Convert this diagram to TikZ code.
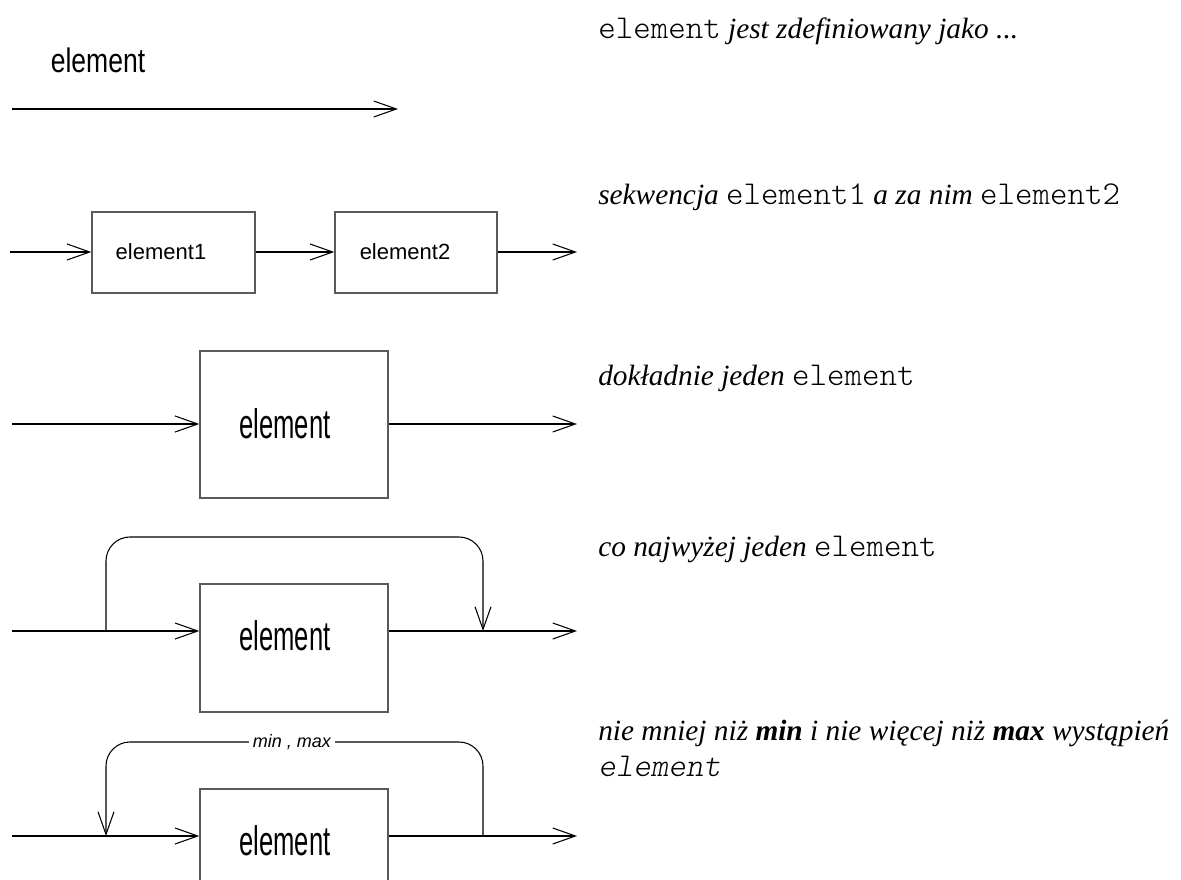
\documentclass[tikz,border=0pt]{standalone}
\usepackage{fontspec}
\setmainfont{Liberation Serif}
\newfontfamily\monof{lmmonolt10-regular}[Extension=.otf, ItalicFont=lmmonolt10-oblique]
\newfontfamily\sansf{Liberation Sans}
\newfontfamily\sanstop[FakeStretch=0.78]{Liberation Sans}
\newfontfamily\sansbox[FakeStretch=0.62]{Liberation Sans}
\usetikzlibrary{arrows.meta}
\tikzset{
  conn/.style={line width=0.8pt, draw=black},
  arr/.style={conn, -{Straight Barb[length=17pt,width=12pt,line width=0.8pt]}},
  boxnode/.style={draw={rgb,255:red,90;green,90;blue,90}, line width=1pt, fill=white, inner sep=0pt},
  bigtxt/.style={font=\sansbox\fontsize{31pt}{33pt}\selectfont, inner sep=0pt},
  smalltxt/.style={font=\sansf\fontsize{16.5pt}{18pt}\selectfont, inner sep=0pt},
  desc/.style={anchor=base west, inner sep=0pt, font=\fontsize{22pt}{28pt}\selectfont},
}
% monospaced words inside the descriptions
\newcommand{\tm}[1]{{\monof\fontsize{25pt}{28pt}\selectfont #1}}
\begin{document}
\begin{tikzpicture}[x=0.75pt,y=-0.75pt]
\useasboundingbox (0,0) rectangle (1181,880);

% --- row 1: a plain element ---
\node[font=\sanstop\fontsize{25.5pt}{27pt}\selectfont, inner sep=0pt] (t1) at (98,60) {element};
\coordinate (a1) at (12,109);
\coordinate (b1) at (398,109);
\draw[arr] (a1) -- (b1);
\node[desc] (d1) at (598,39) {\tm{element} \textit{jest zdefiniowany jako ...}};

% --- row 2: sequence ---
\node[boxnode, minimum width=122.25pt, minimum height=60.75pt] (e1) at (173.5,252.5) {};
\node[boxnode, minimum width=121.5pt, minimum height=60.75pt] (e2) at (416,252.5) {};
\node[smalltxt] (l1) at (161,252) {element1};
\node[smalltxt] (l2) at (405,252) {element2};
\coordinate (a2) at (10,252);
\coordinate (b2) at (577,252);
\draw[arr] (a2) -- (a2 -| e1.west);
\draw[arr] (e1.east |- a2) -- (a2 -| e2.west);
\draw[arr] (e2.east |- a2) -- (b2);
\node[desc] (d2) at (598,205) {\textit{sekwencja} \tm{element1} \textit{a za nim} \tm{element2}};

% --- row 3: exactly one ---
\node[boxnode, minimum width=141pt, minimum height=110.25pt] (e3) at (294,424.5) {};
\node[bigtxt] (l3) at (285,424) {element};
\coordinate (a3) at (12,424);
\coordinate (b3) at (577,424);
\draw[arr] (a3) -- (a3 -| e3.west);
\draw[arr] (e3.east |- a3) -- (b3);
\node[desc] (d3) at (598,386) {\textit{dokładnie jeden} \tm{element}};

% --- row 4: optional ---
\node[boxnode, minimum width=141pt, minimum height=96pt] (e4) at (294,648) {};
\node[bigtxt] (l4) at (285,636) {element};
\coordinate (a4) at (12,631);
\coordinate (b4) at (577,631);
\coordinate (s4) at (106,631);
\coordinate (m4) at (483,631);
\draw[arr] (a4) -- (a4 -| e4.west);
\draw[arr] (e4.east |- a4) -- (b4);
\draw[arr, rounded corners=18pt] (s4) -- ++(0,-94) -| (m4);
\node[desc] (d4) at (598,556) {\textit{co najwyżej jeden} \tm{element}};

% --- row 5: repetition ---
\node[boxnode, minimum width=141pt, minimum height=96pt] (e5) at (294,853) {};
\node[bigtxt] (l5) at (285,841) {element};
\coordinate (a5) at (12,836);
\coordinate (b5) at (577,836);
\coordinate (s5) at (483,836);
\coordinate (m5) at (106,836);
\draw[arr] (a5) -- (a5 -| e5.west);
\draw[arr] (e5.east |- a5) -- (b5);
\draw[arr, rounded corners=18pt] (s5) -- ++(0,-94) -| (m5);
\node[fill=white, inner xsep=3pt, inner ysep=1pt, font=\sansf\itshape\fontsize{13.5pt}{15pt}\selectfont] (mm) at (292,742) {min , max};
\node[desc] (d5) at (598,740) {\textit{nie mniej niż \textbf{min} i nie więcej niż \textbf{max} wystąpień}};
\node[desc] (d5b) at (598,776) {\tm{\itshape element}};
\end{tikzpicture}
\end{document}
